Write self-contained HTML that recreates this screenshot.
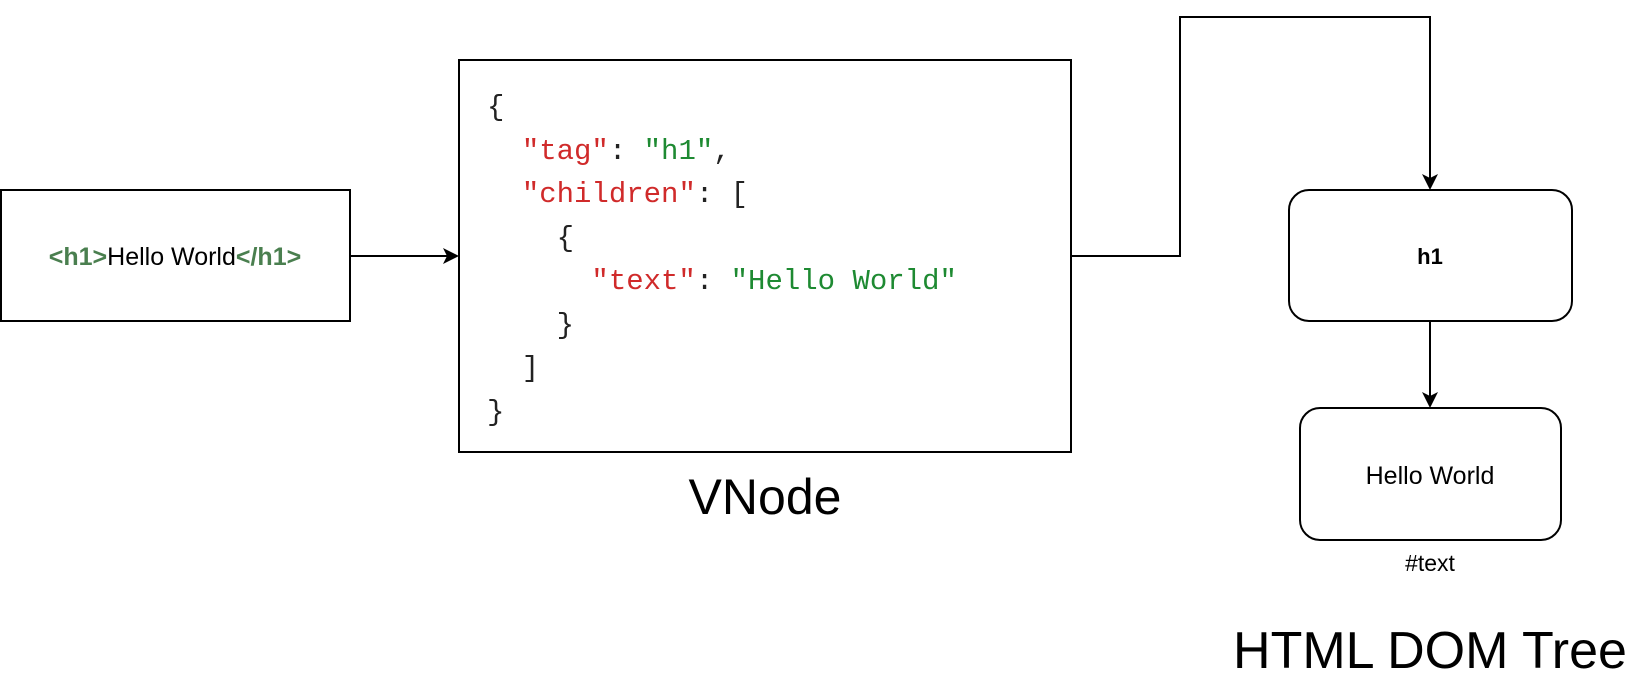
<!DOCTYPE html>
<html><head><meta charset="utf-8"><style>
html,body{margin:0;padding:0;background:#fff;}
body{width:1650px;height:681px;position:relative;overflow:hidden;font-family:"Liberation Sans",Arial,sans-serif;}
.code{position:absolute;left:487px;top:86px;font-family:"Liberation Mono",monospace;font-size:29px;line-height:43.5px;white-space:pre;color:#222;}
.r{color:#d02a2a}.g{color:#1e8a32}
</style></head><body>
<svg width="1650" height="681" style="position:absolute;left:0;top:0">
<defs><marker id="a" markerWidth="16" markerHeight="16" refX="14" refY="8" orient="auto" markerUnits="userSpaceOnUse"><path d="M0,0 L16,8 L0,16 L4,8 Z" fill="#000"/></marker></defs>
<g fill="none" stroke="#000" stroke-width="2">
<rect x="1" y="190" width="349" height="131"/>
<rect x="459" y="60" width="612" height="392"/>
<rect x="1289" y="190" width="283" height="131" rx="20"/>
<rect x="1300" y="408" width="261" height="132" rx="20"/>
<path d="M350 256 L457 256" marker-end="url(#a)"/>
<path d="M1071 256 L1180 256 L1180 17 L1430 17 L1430 188" marker-end="url(#a)"/>
<path d="M1430 321 L1430 406" marker-end="url(#a)"/>
</g>
<text x="175" y="265" text-anchor="middle" font-size="25" font-family="Liberation Sans, sans-serif"><tspan fill="#4a7f4f" font-weight="bold">&lt;h1&gt;</tspan><tspan fill="#000">Hello World</tspan><tspan fill="#4a7f4f" font-weight="bold">&lt;/h1&gt;</tspan></text>
<text x="1430" y="264" text-anchor="middle" font-size="22" font-weight="bold">h1</text>
<text x="1430" y="484" text-anchor="middle" font-size="25">Hello World</text>
<text x="1430" y="571" text-anchor="middle" font-size="23">#text</text>
<text x="765" y="514" text-anchor="middle" font-size="50">VNode</text>
<text x="1430" y="668" text-anchor="middle" font-size="52">HTML DOM Tree</text>
</svg>
<div class="code">{
  <span class="r">"tag"</span>: <span class="g">"h1"</span>,
  <span class="r">"children"</span>: [
    {
      <span class="r">"text"</span>: <span class="g">"Hello World"</span>
    }
  ]
}</div>
</body></html>
